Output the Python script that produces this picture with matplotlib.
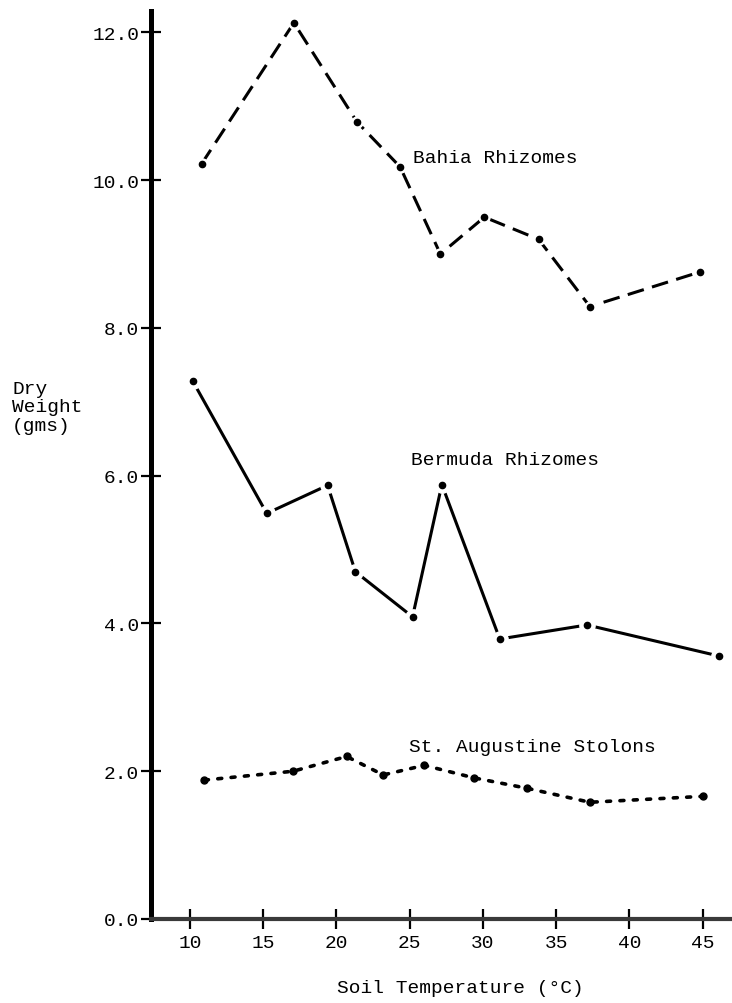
import matplotlib
matplotlib.use("Agg")
import matplotlib.pyplot as plt

# dry weight (gms) against soil temperature (deg C)
bahia_temp = [10.8, 17.1, 21.4, 24.35, 27.1, 30.1, 33.8, 37.3, 44.85]
bahia_wt = [10.22, 12.13, 10.79, 10.18, 9.00, 9.50, 9.20, 8.29, 8.76]

bermuda_temp = [10.2, 15.25, 19.4, 21.3, 25.2, 27.2, 31.15, 37.1, 46.1]
bermuda_wt = [7.28, 5.49, 5.87, 4.70, 4.09, 5.88, 3.79, 3.98, 3.56]

staug_temp = [11.0, 17.05, 20.7, 23.2, 26.0, 29.4, 33.0, 37.3, 45.0]
staug_wt = [1.88, 2.00, 2.20, 1.95, 2.08, 1.91, 1.77, 1.58, 1.66]

y_ticks = [0, 2, 4, 6, 8, 10, 12]
x_ticks = [10, 15, 20, 25, 30, 35, 40, 45]

font = "Liberation Mono"
fsize = 14

fig = plt.figure(figsize=(7.32, 10.04), dpi=100)
ax = fig.add_axes([151 / 732, 84 / 1004, 581 / 732, 908 / 1004])
ax.set_xlim(7.35, 47.0)
ax.set_ylim(0, 12.29)

# Bahia - long dashes
ax.plot(bahia_temp, bahia_wt, color="black", lw=2.2, dashes=(5.5, 2.8), zorder=2)
ax.plot(bahia_temp, bahia_wt, "o", ms=8, color="white", zorder=3)
ax.plot(bahia_temp, bahia_wt, "o", ms=4.5, color="black", zorder=4)

# Bermuda - solid, line stops short of each point
ax.plot(bermuda_temp, bermuda_wt, color="black", lw=2.2, zorder=2)
ax.plot(bermuda_temp, bermuda_wt, "o", ms=11, color="white", zorder=3)
ax.plot(bermuda_temp, bermuda_wt, "o", ms=4.5, color="black", zorder=4)

# St. Augustine - dotted
ax.plot(staug_temp, staug_wt, color="black", lw=2.6, dashes=(1.1, 2.6),
        dash_capstyle="round", zorder=2)
ax.plot(staug_temp, staug_wt, "o", ms=5, color="black", zorder=4)

ax.text(25.2, 10.31, "Bahia Rhizomes", family=font, fontsize=fsize, va="center")
ax.text(25.1, 6.22, "Bermuda Rhizomes", family=font, fontsize=fsize, va="center")
ax.text(24.95, 2.34, "St. Augustine Stolons", family=font, fontsize=fsize, va="center")

# axes
for side in ["top", "right"]:
    ax.spines[side].set_visible(False)
ax.spines["left"].set_linewidth(3.6)
ax.spines["left"].set_color("black")
ax.spines["bottom"].set_linewidth(3.0)
ax.spines["bottom"].set_color("#3a3a3a")

ax.set_yticks(y_ticks)
ax.set_yticklabels(["%.1f" % v for v in y_ticks])
ax.set_xticks(x_ticks)
ax.set_xticklabels([str(v) for v in x_ticks])
ax.tick_params(axis="y", direction="inout", length=15, width=1.6, pad=1)
ax.tick_params(axis="x", direction="inout", length=15, width=1.6, pad=3)
for lab in ax.get_xticklabels() + ax.get_yticklabels():
    lab.set_family(font)
    lab.set_fontsize(fsize)

fig.text(12 / 732, 1 - 408 / 1004, "Dry\nWeight\n(gms)", family=font,
         fontsize=fsize, ha="left", va="center", linespacing=1.1)
fig.text(460 / 732, 1 - 989 / 1004, "Soil Temperature (\u00b0C)", family=font,
         fontsize=fsize, ha="center", va="center")

fig.savefig("out.png", dpi=100)
